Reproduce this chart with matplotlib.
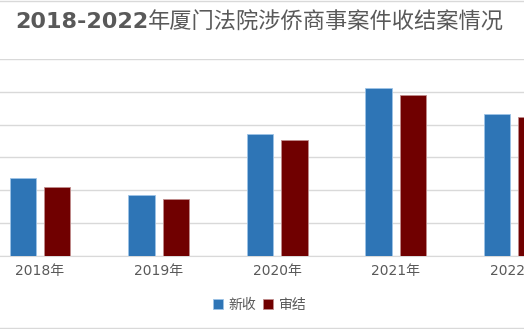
import matplotlib.pyplot as plt
import numpy as np
from matplotlib.lines import Line2D

plt.rcParams['font.family'] = ['DejaVu Sans', 'Noto Sans CJK SC']

# 数据
years = ['2018年', '2019年', '2020年', '2021年', '2022年']
xinshou = [237, 185, 371, 511, 433]   # 新收
shenjie = [209, 174, 352, 489, 422]   # 审结

gray = '#595959'
x = np.arange(len(years))

fig = plt.figure(figsize=(5.24, 3.29), dpi=100)
ax = fig.add_axes([0, 0.2219, 1, 0.5988])

w = 0.222
ax.bar(x - 0.145, xinshou, w, color='#2e75b6', edgecolor='#9dc3e6', linewidth=0.6, label='新收', zorder=3)
ax.bar(x + 0.145, shenjie, w, color='#700000', edgecolor='#c08c8c', linewidth=0.6, label='审结', zorder=3)

ax.set_xlim(-0.337, 4.081)
ax.set_ylim(0, 600)
ax.set_yticks(range(0, 601, 100))
ax.set_yticklabels([])
ax.grid(axis='y', color='#d9d9d9', linewidth=1, zorder=0)
ax.set_xticks(x)
ax.set_xticklabels(years, fontsize=10, color=gray)
ax.tick_params(axis='both', length=0, pad=6)
for s in ['left', 'right', 'top']:
    ax.spines[s].set_visible(False)
ax.spines['bottom'].set_color('#d9d9d9')

# 标题：数字加粗，中文常规
t1 = fig.text(0.029, 0.933, '2018-2022', ha='left', va='center',
              fontsize=16, fontweight='bold', color=gray)
fig.canvas.draw()
bb = t1.get_window_extent()
x2 = bb.x1 / fig.bbox.width
fig.text(x2, 0.933, '年厦门法院涉侨商事案件收结案情况', ha='left', va='center',
         fontsize=16, color=gray, family=['Noto Sans CJK SC'])

fig.legend(loc='center', bbox_to_anchor=(0.496, 0.073), ncol=2, frameon=False,
           handlelength=0.7, handleheight=0.7, handletextpad=0.4, columnspacing=0.5,
           labelcolor=gray, prop={'family': ['Noto Sans CJK SC'], 'size': 10})

# 图表外框（上下边）
fig.add_artist(Line2D([0, 1], [0.998, 0.998], transform=fig.transFigure, color='#d9d9d9', linewidth=1))
fig.add_artist(Line2D([0, 1], [0.004, 0.004], transform=fig.transFigure, color='#d9d9d9', linewidth=1))

fig.savefig('out.png', dpi=100)
